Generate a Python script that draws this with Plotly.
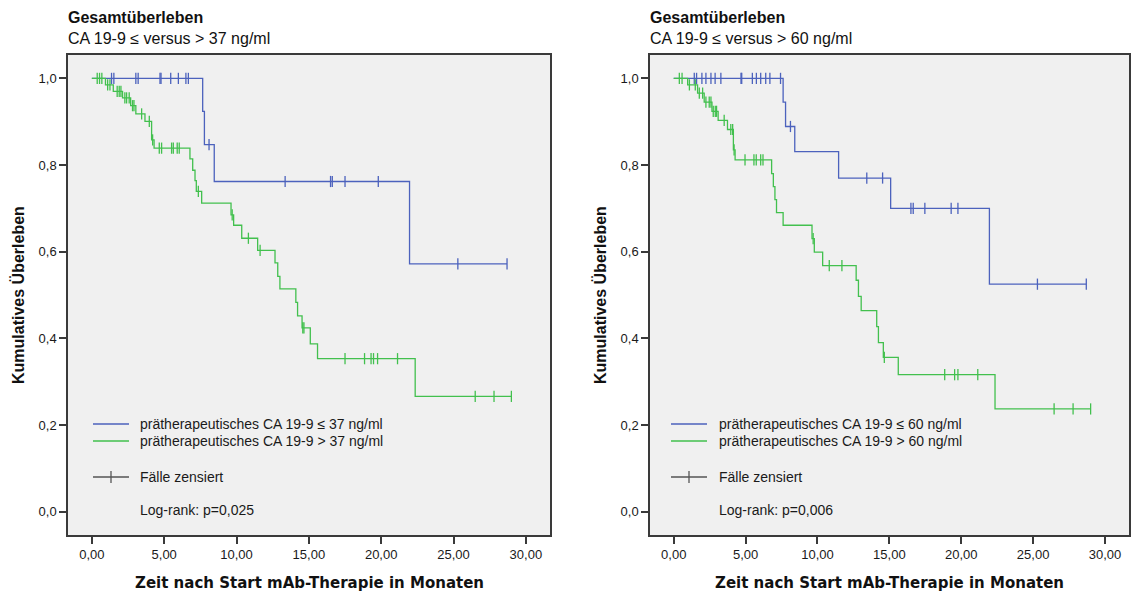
import numpy as np
import plotly.graph_objects as go

# ---------------- data ----------------
# Left panel: CA 19-9 <= / > 37 ng/ml
L_low_event_t = [7.66, 7.78, 8.46, 21.96]
L_low_surv = [0.924, 0.847, 0.762, 0.572]
L_low_censor_t = [1.36, 1.52, 3.04, 3.20, 4.71, 4.78, 5.45, 5.98, 6.50, 6.67, 8.10,
                  13.36, 16.50, 16.62, 17.50, 19.80, 25.30, 28.70]

L_high_event_t = [0.94, 1.48, 2.12, 2.68, 3.04, 3.67, 4.13, 4.30, 6.78, 6.97, 7.13, 7.22,
                  7.59, 9.62, 9.80, 10.36, 11.46, 12.66, 12.85, 13.00, 14.10, 14.22, 14.53,
                  15.10, 15.60, 22.35]
L_high_surv = [0.985, 0.970, 0.955, 0.937, 0.918, 0.901, 0.858, 0.839, 0.814, 0.788, 0.764,
               0.739, 0.712, 0.685, 0.661, 0.631, 0.603, 0.574, 0.543, 0.514, 0.483, 0.452,
               0.424, 0.387, 0.353, 0.266]
L_high_censor_t = [0.37, 0.53, 0.69, 1.09, 1.25, 1.75, 1.89, 2.01, 2.28, 2.40, 2.58, 2.81,
                   2.91, 3.44, 3.97, 4.20, 4.66, 4.82, 5.51, 5.63, 5.90, 6.04, 7.36, 9.70,
                   10.82, 11.63, 14.58, 14.66, 17.50, 18.85, 19.30, 19.47, 19.75, 21.13,
                   26.50, 27.80, 29.00]

# Right panel: CA 19-9 <= / > 60 ng/ml
R_low_event_t = [7.61, 7.78, 8.42, 11.47, 15.09, 21.96]
R_low_surv = [0.945, 0.889, 0.831, 0.770, 0.700, 0.525]
R_low_censor_t = [1.43, 1.59, 1.96, 2.24, 2.59, 2.88, 3.28, 4.68, 4.73, 5.47, 5.75, 6.05,
                  6.40, 6.69, 7.43, 8.12, 13.43, 14.53, 16.50, 16.66, 17.47, 19.30, 19.77,
                  25.30, 28.70]

R_high_event_t = [0.97, 1.66, 2.12, 2.66, 3.09, 3.74, 4.15, 4.27, 6.81, 6.93, 7.04, 7.15,
                  7.61, 9.62, 9.78, 10.36, 12.69, 12.85, 13.04, 14.12, 14.24, 14.58, 15.62,
                  22.35]
R_high_surv = [0.985, 0.966, 0.945, 0.924, 0.903, 0.882, 0.835, 0.812, 0.780, 0.750, 0.720,
               0.690, 0.661, 0.630, 0.599, 0.568, 0.534, 0.497, 0.464, 0.427, 0.390, 0.356,
               0.316, 0.237]
R_high_censor_t = [0.39, 0.58, 1.09, 1.50, 1.78, 2.01, 2.24, 2.47, 2.59, 2.75, 2.89, 2.98,
                   3.51, 3.97, 4.10, 4.20, 4.96, 5.58, 5.74, 6.05, 6.21, 9.70, 10.82, 11.70,
                   14.65, 18.85, 19.54, 19.77, 21.15, 26.46, 27.78, 29.00]

x_tickvals = [0, 5, 10, 15, 20, 25, 30]
x_ticktext = ["0,00", "5,00", "10,00", "15,00", "20,00", "25,00", "30,00"]
y_tickvals = [0.0, 0.2, 0.4, 0.6, 0.8, 1.0]
y_ticktext = ["0,0", "0,2", "0,4", "0,6", "0,8", "1,0"]

titles = ["Gesamtüberleben", "Gesamtüberleben"]
subtitles = ["CA 19-9 ≤ versus > 37 ng/ml", "CA 19-9 ≤ versus > 60 ng/ml"]
legend_low = ["prätherapeutisches CA 19-9 ≤ 37 ng/ml", "prätherapeutisches CA 19-9 ≤ 60 ng/ml"]
legend_high = ["prätherapeutisches CA 19-9 > 37 ng/ml", "prätherapeutisches CA 19-9 > 60 ng/ml"]
pvals = ["Log-rank: p=0,025", "Log-rank: p=0,006"]

# ---------------- styling ----------------
W, H = 1131, 595
BLUE = "#4C62BD"
GREEN = "#42C04E"
AXC = "#3a3a3a"
BG = "#F0F0F0"
FONT = "Liberation Sans, Arial, sans-serif"
TEXTC = "#1a1a1a"


def px(x):
    return x / W


def py(y):
    return 1 - y / H


def km_path(ev_t, surv, cens_t):
    end = max(max(ev_t), max(cens_t))
    xs = [0.0] + list(ev_t) + [end]
    ys = [1.0] + list(surv) + [surv[-1]]
    return xs, ys


def km_at(t_arr, ev_t, surv):
    ev = np.asarray(ev_t)
    sv = np.concatenate([[1.0], np.asarray(surv)])
    idx = np.searchsorted(ev, np.asarray(t_arr), side="right")
    return sv[idx]


fig = go.Figure()

panels = [
    dict(low=(L_low_event_t, L_low_surv, L_low_censor_t),
         high=(L_high_event_t, L_high_surv, L_high_censor_t), xa="x", ya="y"),
    dict(low=(R_low_event_t, R_low_surv, R_low_censor_t),
         high=(R_high_event_t, R_high_surv, R_high_censor_t), xa="x2", ya="y2"),
]

for p in panels:
    for key, col in (("low", BLUE), ("high", GREEN)):
        ev, sv, ce = p[key]
        xs, ys = km_path(ev, sv, ce)
        fig.add_trace(go.Scatter(x=xs, y=ys, mode="lines", line=dict(color=col, width=1.3, shape="hv"),
                                 xaxis=p["xa"], yaxis=p["ya"], showlegend=False, hoverinfo="skip"))
        fig.add_trace(go.Scatter(x=ce, y=km_at(ce, ev, sv), mode="markers",
                                 marker=dict(symbol="line-ns", size=8, line=dict(width=1.3, color=col)),
                                 xaxis=p["xa"], yaxis=p["ya"], showlegend=False, hoverinfo="skip"))

# plot areas (pixels)
frames = [(68, 550), (650, 1129)]
top, bottom = 55, 535
xr = [-1.65, 31.67]
yr = [-0.054, 1.054]

axis_common = dict(showline=True, mirror=True, linecolor=AXC, linewidth=1.5, ticks="outside",
                   ticklen=7, tickwidth=1.5, tickcolor=AXC, showgrid=False, zeroline=False,
                   tickfont=dict(family=FONT, size=13, color=TEXTC))

fig.update_layout(
    width=W, height=H, margin=dict(l=0, r=0, t=0, b=0),
    paper_bgcolor="white", plot_bgcolor=BG, showlegend=False,
    xaxis=dict(domain=[px(frames[0][0]), px(frames[0][1])], range=xr, tickvals=x_tickvals,
               ticktext=x_ticktext, anchor="y", **axis_common),
    yaxis=dict(domain=[py(bottom), py(top)], range=yr, tickvals=y_tickvals, ticktext=y_ticktext,
               anchor="x", **axis_common),
    xaxis2=dict(domain=[px(frames[1][0]), px(frames[1][1])], range=xr, tickvals=x_tickvals,
                ticktext=x_ticktext, anchor="y2", **axis_common),
    yaxis2=dict(domain=[py(bottom), py(top)], range=yr, tickvals=y_tickvals, ticktext=y_ticktext,
                anchor="x2", **axis_common),
)

annots = []
shapes = []
leg_x = [(93, 129, 138), (671, 707, 717)]
for i, (fl, fr) in enumerate(frames):
    # titles
    annots.append(dict(x=px(fl - 2), y=py(17), xref="paper", yref="paper", text=f"<b>{titles[i]}</b>",
                       showarrow=False, xanchor="left", yanchor="middle",
                       font=dict(family=FONT, size=16, color="#111")))
    annots.append(dict(x=px(fl - 2), y=py(39), xref="paper", yref="paper", text=subtitles[i],
                       showarrow=False, xanchor="left", yanchor="middle",
                       font=dict(family=FONT, size=16, color="#111")))
    # y axis title
    annots.append(dict(x=px(fl - 50), y=py((top + bottom) / 2), xref="paper", yref="paper",
                       text="<b>Kumulatives Überleben</b>", textangle=-90, showarrow=False,
                       xanchor="center", yanchor="middle",
                       font=dict(family=FONT, size=16, color="#111")))
    # x axis title
    annots.append(dict(x=px((fl + fr) / 2), y=py(583), xref="paper", yref="paper",
                       text="<b>Zeit nach Start mAb-Therapie in Monaten</b>", showarrow=False,
                       xanchor="center", yanchor="middle",
                       font=dict(family="DejaVu Sans, sans-serif", size=15, color="#111")))
    # legend
    lx0, lx1, tx = leg_x[i]
    for yy, col, txt in ((424, BLUE, legend_low[i]), (441, GREEN, legend_high[i])):
        shapes.append(dict(type="line", xref="paper", yref="paper", x0=px(lx0), x1=px(lx1),
                           y0=py(yy), y1=py(yy), line=dict(color=col, width=1.3)))
        annots.append(dict(x=px(tx), y=py(yy), xref="paper", yref="paper", text=txt, showarrow=False,
                           xanchor="left", yanchor="middle", font=dict(family=FONT, size=14, color=TEXTC)))
    shapes.append(dict(type="line", xref="paper", yref="paper", x0=px(lx0), x1=px(lx1),
                       y0=py(477), y1=py(477), line=dict(color="#555", width=1.3)))
    mid = (lx0 + lx1) / 2
    shapes.append(dict(type="line", xref="paper", yref="paper", x0=px(mid), x1=px(mid),
                       y0=py(471), y1=py(483), line=dict(color="#555", width=1.3)))
    annots.append(dict(x=px(tx), y=py(477), xref="paper", yref="paper", text="Fälle zensiert",
                       showarrow=False, xanchor="left", yanchor="middle",
                       font=dict(family=FONT, size=14, color=TEXTC)))
    annots.append(dict(x=px(tx), y=py(510), xref="paper", yref="paper", text=pvals[i],
                       showarrow=False, xanchor="left", yanchor="middle",
                       font=dict(family=FONT, size=14, color=TEXTC)))

fig.update_layout(annotations=annots, shapes=shapes)
fig.write_html("out.html", config={"displayModeBar": False},
               post_script="document.body.style.margin='0';document.body.style.overflow='hidden';")
